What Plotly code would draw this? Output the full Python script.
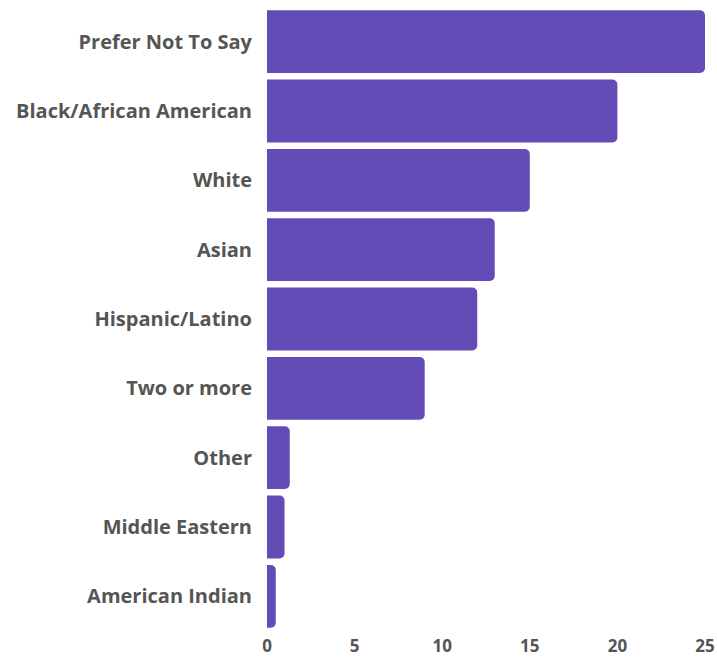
import plotly.graph_objects as go

categories = ["Prefer Not To Say", "Black/African American", "White", "Asian",
              "Hispanic/Latino", "Two or more", "Other", "Middle Eastern", "American Indian"]
values = [25, 20, 15, 13, 12, 9, 1.3, 1.0, 0.5]
x_ticks = [0, 5, 10, 15, 20, 25]

fig = go.Figure(go.Bar(
    x=values, y=categories, orientation="h",
    marker=dict(color="#634CB5", line=dict(width=0)),
    hoverinfo="skip",
))

fig.update_layout(
    width=717, height=657,
    margin=dict(l=267, r=12, t=7, b=26, autoexpand=False),
    paper_bgcolor="white", plot_bgcolor="white",
    bargap=0.094,
    barcornerradius=5,
    showlegend=False,
    font=dict(family="Open Sans", color="#555555"),
)
fig.update_xaxes(
    range=[0, 25], tickvals=x_ticks, showgrid=False, zeroline=False,
    showline=False, ticks="", automargin=False, ticklabeloverflow="allow",
    tickfont=dict(size=17, family="Open Sans", weight="bold", color="#555555"),
    ticklabelstandoff=3,
)
fig.update_yaxes(
    autorange="reversed", showgrid=False, zeroline=False, showline=False, ticks="",
    automargin=False,
    tickfont=dict(size=20, family="Open Sans", weight="bold", color="#555555"),
    ticklabelstandoff=14,
)

fig.write_html("out.html", config={"displayModeBar": False, "staticPlot": True},
               post_script="document.body.style.margin='0';")
